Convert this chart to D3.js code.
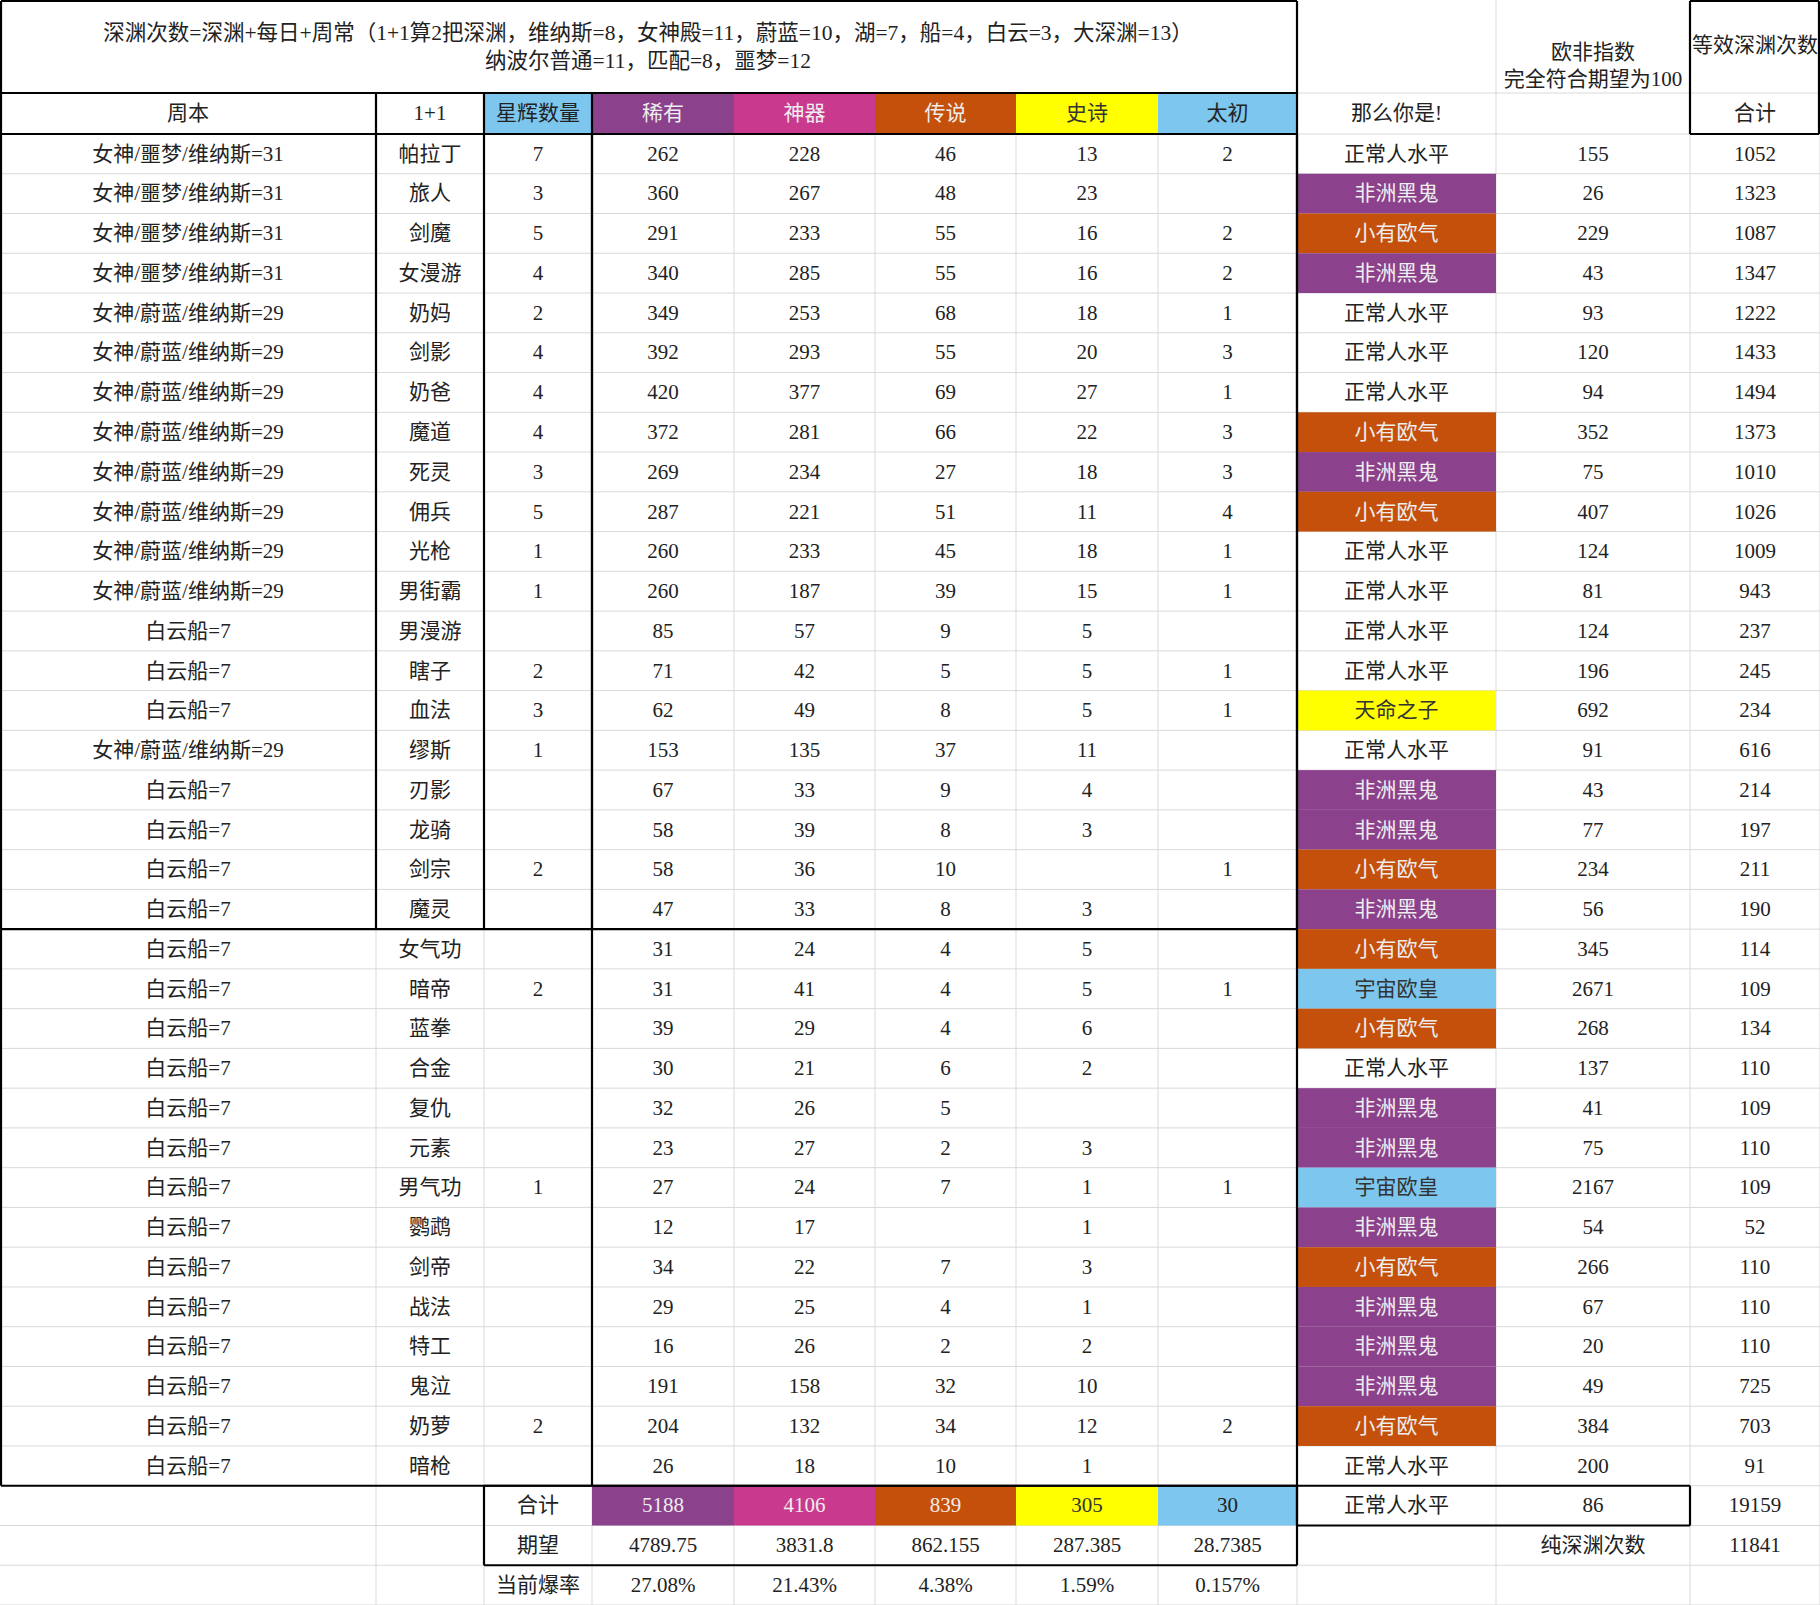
<!DOCTYPE html>
<html><head><meta charset="utf-8">
<script src="https://cdn.jsdelivr.net/npm/d3@7"></script>
<style>body{margin:0;background:#fff}svg{display:block}</style>
</head><body><svg id="c" width="1820" height="1605"></svg>
<script>
const titleLines = ["深渊次数=深渊+每日+周常（1+1算2把深渊，维纳斯=8，女神殿=11，蔚蓝=10，湖=7，船=4，白云=3，大深渊=13）","纳波尔普通=11，匹配=8，噩梦=12"];
const headers = ["周本","1+1","星辉数量","稀有","神器","传说","史诗","太初","那么你是!","","合计"];
const zhouben = ["女神/噩梦/维纳斯=31","女神/噩梦/维纳斯=31","女神/噩梦/维纳斯=31","女神/噩梦/维纳斯=31","女神/蔚蓝/维纳斯=29","女神/蔚蓝/维纳斯=29","女神/蔚蓝/维纳斯=29","女神/蔚蓝/维纳斯=29","女神/蔚蓝/维纳斯=29","女神/蔚蓝/维纳斯=29","女神/蔚蓝/维纳斯=29","女神/蔚蓝/维纳斯=29","白云船=7","白云船=7","白云船=7","女神/蔚蓝/维纳斯=29","白云船=7","白云船=7","白云船=7","白云船=7","白云船=7","白云船=7","白云船=7","白云船=7","白云船=7","白云船=7","白云船=7","白云船=7","白云船=7","白云船=7","白云船=7","白云船=7","白云船=7","白云船=7"];
const jobs = ["帕拉丁","旅人","剑魔","女漫游","奶妈","剑影","奶爸","魔道","死灵","佣兵","光枪","男街霸","男漫游","瞎子","血法","缪斯","刃影","龙骑","剑宗","魔灵","女气功","暗帝","蓝拳","合金","复仇","元素","男气功","鹦鹉","剑帝","战法","特工","鬼泣","奶萝","暗枪"];
const stars = [7,3,5,4,2,4,4,4,3,5,1,1,"",2,3,1,"","",2,"","",2,"","","","",1,"","","","","",2,""];
const rare = [262,360,291,340,349,392,420,372,269,287,260,260,85,71,62,153,67,58,58,47,31,31,39,30,32,23,27,12,34,29,16,191,204,26];
const artifact = [228,267,233,285,253,293,377,281,234,221,233,187,57,42,49,135,33,39,36,33,24,41,29,21,26,27,24,17,22,25,26,158,132,18];
const legend = [46,48,55,55,68,55,69,66,27,51,45,39,9,5,8,37,9,8,10,8,4,4,4,6,5,2,7,"",7,4,2,32,34,10];
const epic = [13,23,16,16,18,20,27,22,18,11,18,15,5,5,5,11,4,3,"",3,5,5,6,2,"",3,1,1,3,1,2,10,12,1];
const primal = [2,"",2,2,1,3,1,3,3,4,1,1,"",1,1,"","","",1,"","",1,"","","","",1,"","","","","",2,""];
const verdict = ["正常人水平","非洲黑鬼","小有欧气","非洲黑鬼","正常人水平","正常人水平","正常人水平","小有欧气","非洲黑鬼","小有欧气","正常人水平","正常人水平","正常人水平","正常人水平","天命之子","正常人水平","非洲黑鬼","非洲黑鬼","小有欧气","非洲黑鬼","小有欧气","宇宙欧皇","小有欧气","正常人水平","非洲黑鬼","非洲黑鬼","宇宙欧皇","非洲黑鬼","小有欧气","非洲黑鬼","非洲黑鬼","非洲黑鬼","小有欧气","正常人水平"];
const luck = [155,26,229,43,93,120,94,352,75,407,124,81,124,196,692,91,43,77,234,56,345,2671,268,137,41,75,2167,54,266,67,20,49,384,200];
const total = [1052,1323,1087,1347,1222,1433,1494,1373,1010,1026,1009,943,237,245,234,616,214,197,211,190,114,109,134,110,109,110,109,52,110,110,110,725,703,91];
const sumRow = ["合计",5188,4106,839,305,30,"正常人水平",86,19159];
const expRow = ["期望","4789.75","3831.8","862.155","287.385","28.7385"];
const rateRow = ["当前爆率","27.08%","21.43%","4.38%","1.59%","0.157%"];

const PURPLE="#8B418C", MAG="#C93A8E", ORG="#C5500B", YEL="#FFFF00", BLUE="#7DC6EE";
const verdictColor = {"非洲黑鬼":PURPLE,"小有欧气":ORG,"天命之子":YEL,"宇宙欧皇":BLUE};
const verdictText = {"非洲黑鬼":"#eee","小有欧气":"#eee","天命之子":"#333","宇宙欧皇":"#333"};

const edges=[0,376,484,592,734,875,1016,1158,1297,1496,1690,1820];
const colX=i=>edges[i], colW=i=>edges[i+1]-edges[i];
const rowH=(1605-134)/37;
const y=d3.scaleLinear().domain([0,37]).range([134,1605]);
const svg=d3.select("#c");
const FONT='"Liberation Serif","Noto Sans CJK SC",serif';
const grid=svg.append("g"), fills=svg.append("g"), txt=svg.append("g"), bold=svg.append("g");

function cell(ci,top,h,text,bg,color){
  if(bg) fills.append("rect").attr("x",colX(ci)).attr("y",top).attr("width",colW(ci)).attr("height",h).attr("fill",bg);
  if(text!==""&&text!=null) txt.append("text").attr("x",colX(ci)+colW(ci)/2).attr("y",top+h/2+2)
    .attr("text-anchor","middle").attr("dominant-baseline","middle").attr("font-family",FONT).attr("font-size",21)
    .attr("fill",color||"#222").text(text);
}
for(let i=0;i<=37;i++) grid.append("line").attr("x1",0).attr("x2",1820).attr("y1",y(i)).attr("y2",y(i)).attr("stroke","#d9d9d9");
grid.append("line").attr("x1",1297).attr("x2",1820).attr("y1",93).attr("y2",93).attr("stroke","#d9d9d9");
edges.forEach((e,i)=>{ if(i>0) grid.append("line").attr("x1",e).attr("x2",e).attr("y1",i<9?93:0).attr("y2",1605).attr("stroke","#d9d9d9");});

titleLines.forEach((t,i)=>txt.append("text").attr("x",648).attr("y",[35,63][i]).attr("text-anchor","middle").attr("dominant-baseline","middle").attr("font-family",FONT).attr("font-size",21.5).attr("fill","#222").text(t));
[["欧非指数",54],["完全符合期望为100",81]].forEach(([t,yy])=>txt.append("text").attr("x",1593).attr("y",yy).attr("text-anchor","middle").attr("dominant-baseline","middle").attr("font-family",FONT).attr("font-size",21).attr("fill","#222").text(t));
txt.append("text").attr("x",1755).attr("y",47).attr("text-anchor","middle").attr("dominant-baseline","middle").attr("font-family",FONT).attr("font-size",21).attr("fill","#222").text("等效深渊次数");

const hdrBg=[null,null,BLUE,PURPLE,MAG,ORG,YEL,BLUE,null,null,null];
const hdrCol=["#222","#222","#222","#eee","#eee","#eee","#333","#222","#222","#222","#222"];
headers.forEach((h,i)=>cell(i,93,134-93,h,hdrBg[i],hdrCol[i]));

jobs.forEach((j,r)=>{
  const t=y(r);
  const vals=[zhouben[r],j,stars[r],rare[r],artifact[r],legend[r],epic[r],primal[r],verdict[r],luck[r],total[r]];
  vals.forEach((v,ci)=>{
    if(ci===8) cell(ci,t,rowH,v,verdictColor[v],verdictText[v]);
    else cell(ci,t,rowH,v);
  });
});
const ySum=y(34), yExp=y(35), yRate=y(36);
const sumBg=[PURPLE,MAG,ORG,YEL,BLUE], sumTc=["#eee","#eee","#eee","#333","#222"];
cell(2,ySum,rowH,sumRow[0]);
for(let k=0;k<5;k++) cell(3+k,ySum,rowH,sumRow[1+k],sumBg[k],sumTc[k]);
cell(8,ySum,rowH,sumRow[6]); cell(9,ySum,rowH,sumRow[7]); cell(10,ySum,rowH,sumRow[8]);
expRow.forEach((v,k)=>cell(2+k,yExp,rowH,v));
cell(9,yExp,rowH,"纯深渊次数"); cell(10,yExp,rowH,11841);
rateRow.forEach((v,k)=>cell(2+k,yRate,rowH,v));

const B=(x1,y1,x2,y2)=>bold.append("line").attr("x1",x1).attr("y1",y1).attr("x2",x2).attr("y2",y2).attr("stroke","#000").attr("stroke-width",2.2);
const box=(x1,y1,x2,y2)=>{B(x1,y1,x2,y1);B(x2,y1,x2,y2);B(x2,y2,x1,y2);B(x1,y2,x1,y1);};
box(1,1,1297,93);
box(1,93,1297,134);
box(1,134,1297,y(20));
[376,484,592].forEach(x=>B(x,93,x,y(20)));
box(592,134,1297,y(34));
B(1,y(20),1,y(34)); B(1,y(34),592,y(34));
box(484,y(34),1297,y(36));
box(1297,y(34),1690,y(35));
box(1690,1,1819,134);
</script></body></html>
